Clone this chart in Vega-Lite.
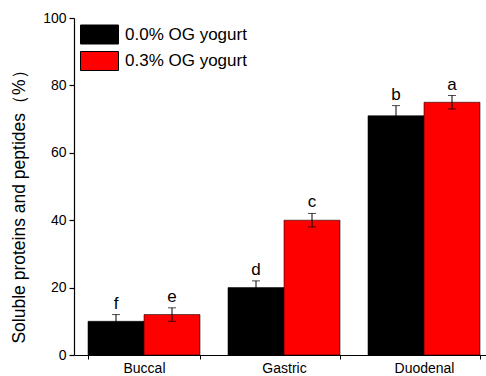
{
  "$schema": "https://vega.github.io/schema/vega-lite/v6.json",
  "width": 412,
  "height": 337,
  "autosize": {"type": "none"},
  "padding": {"left": 74, "top": 18, "right": 0, "bottom": 21},
  "background": "white",
  "config": {
    "font": "Liberation Sans",
    "view": {"stroke": null},
    "axis": {"domainColor": "#000000", "tickColor": "#000000", "labelColor": "#000000", "titleColor": "#000000", "grid": false}
  },
  "data": {
    "values": [
      {"stage": "Buccal", "group": "0.0% OG yogurt", "value": 10, "lo": 8, "hi": 12, "letter": "f"},
      {"stage": "Buccal", "group": "0.3% OG yogurt", "value": 12, "lo": 10, "hi": 14, "letter": "e"},
      {"stage": "Gastric", "group": "0.0% OG yogurt", "value": 20, "lo": 18, "hi": 22, "letter": "d"},
      {"stage": "Gastric", "group": "0.3% OG yogurt", "value": 40, "lo": 38, "hi": 42, "letter": "c"},
      {"stage": "Duodenal", "group": "0.0% OG yogurt", "value": 71, "lo": 68, "hi": 74, "letter": "b"},
      {"stage": "Duodenal", "group": "0.3% OG yogurt", "value": 75, "lo": 73, "hi": 77, "letter": "a"}
    ]
  },
  "encoding": {
    "x": {
      "field": "stage", "type": "nominal", "sort": ["Buccal", "Gastric", "Duodenal"],
      "scale": {"range": [0, 420], "paddingInner": 0.2, "paddingOuter": 0.1},
      "axis": {"title": null, "labelAngle": 0, "labelFontSize": 14, "tickBand": "extent", "tickSize": 4, "labelPadding": 2, "domainWidth": 1.2}
    },
    "xOffset": {"field": "group", "type": "nominal", "sort": ["0.0% OG yogurt", "0.3% OG yogurt"], "scale": {"paddingInner": 0, "paddingOuter": 0}}
  },
  "layer": [
    {
      "mark": {"type": "bar", "stroke": "#000000", "strokeWidth": 0.8, "strokeOpacity": 0.7},
      "encoding": {
        "y": {
          "field": "value", "type": "quantitative",
          "scale": {"domain": [0, 100], "nice": false},
          "axis": {
            "title": "Soluble proteins and peptides（%）", "titleFontSize": 17.5, "titleFontWeight": "normal",
            "titleX": -46, "titleY": 184,
            "labelFontSize": 14, "values": [0, 10, 20, 30, 40, 50, 60, 70, 80, 90, 100],
            "labelExpr": "datum.value % 20 === 0 ? datum.label : ''",
            "tickSize": {"condition": {"test": "datum.value % 20 === 0", "value": 5}, "value": 3},
            "labelPadding": 3, "domainWidth": 1.2, "tickWidth": 1.2
          }
        },
        "color": {
          "field": "group", "type": "nominal",
          "scale": {"domain": ["0.0% OG yogurt", "0.3% OG yogurt"], "range": ["#000000", "#ff0000"]},
          "legend": {
            "title": null, "orient": "none", "legendX": 15.5, "legendY": 6.5,
            "symbolType": "M-2,-1H2V1H-2Z", "symbolSize": 361, "symbolStrokeColor": "#000000", "symbolStrokeWidth": 1,
            "labelFontSize": 17, "labelOffset": 15.5, "rowPadding": 2.5, "labelColor": "#000000", "symbolOpacity": 1
          }
        }
      }
    },
    {
      "mark": {"type": "rule", "color": "#000000", "strokeWidth": 1},
      "encoding": {
        "y": {"field": "lo", "type": "quantitative"},
        "y2": {"field": "hi"}
      }
    },
    {
      "mark": {"type": "tick", "color": "#000000", "size": 8, "thickness": 1},
      "encoding": {"y": {"field": "hi", "type": "quantitative"}}
    },
    {
      "mark": {"type": "tick", "color": "#000000", "size": 8, "thickness": 1},
      "encoding": {"y": {"field": "lo", "type": "quantitative"}}
    },
    {
      "mark": {"type": "text", "baseline": "alphabetic", "dy": -6, "fontSize": 17, "color": "#000000"},
      "encoding": {
        "y": {"field": "hi", "type": "quantitative"},
        "text": {"field": "letter"}
      }
    }
  ]
}
